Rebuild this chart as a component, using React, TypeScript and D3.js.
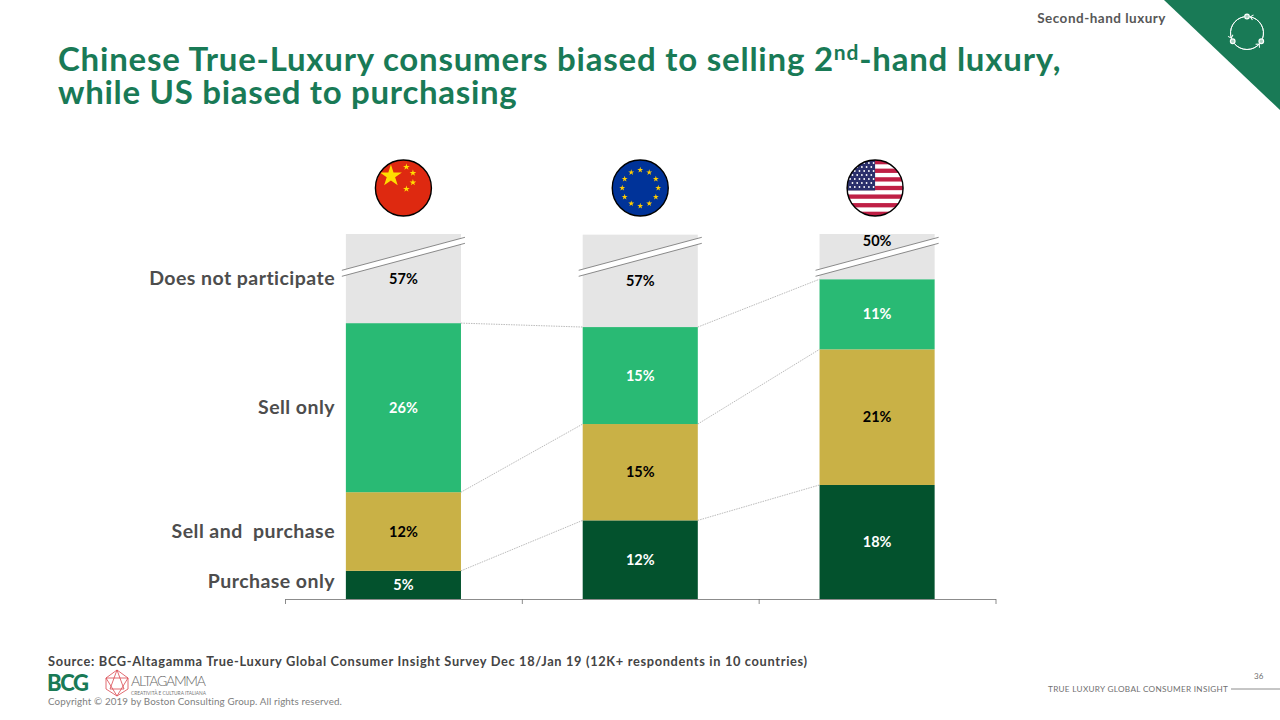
import { useEffect, useRef } from 'react';
import * as d3 from 'd3';

const regions = ['China', 'Europe', 'US'];
const segments = ['Purchase only', 'Sell and purchase', 'Sell only', 'Does not participate'];
const rowLabels = ['Purchase only', 'Sell and  purchase', 'Sell only', 'Does not participate'];

// plotted heights, the grey segment is cut by the axis break
const purchaseOnly = [4.3, 12, 17.4];
const sellAndPurchase = [12, 14.7, 20.7];
const sellOnly = [25.8, 14.8, 10.7];
const notParticipating = [13.6, 14.1, 6.9];

const purchaseLabels = ['5%', '12%', '18%'];
const bothLabels = ['12%', '15%', '21%'];
const sellLabels = ['26%', '15%', '11%'];
const notLabels = ['57%', '57%', '50%'];

const segmentColors = ['#03522d', '#c9b146', '#29ba74', '#e5e5e5'];
const labelColors = ['#ffffff', '#000000', '#ffffff', '#000000'];
const GREEN = '#197a56';
const FONT = "Lato, 'Open Sans', sans-serif";

export default function App() {
  const svgRef = useRef<SVGSVGElement>(null);

  useEffect(() => {
    if (!svgRef.current) return;
    const svg = d3.select(svgRef.current);
    svg.selectAll('*').remove();
    svg.style('font-family', FONT);

    const x = d3.scaleBand().domain(regions).range([285, 995.5]).paddingInner(0.514).paddingOuter(0.257);
    const y = d3.scaleLinear().domain([0, 55.7]).range([599, 234]);
    const bw = x.bandwidth();

    const rows = regions.map((region, i) => ({
      region,
      'Purchase only': purchaseOnly[i],
      'Sell and purchase': sellAndPurchase[i],
      'Sell only': sellOnly[i],
      'Does not participate': notParticipating[i],
    }));
    const stack = d3.stack<any>().keys(segments)(rows);
    const labelSets = [purchaseLabels, bothLabels, sellLabels, notLabels];

    // corner triangle + header
    svg.append('path').attr('d', 'M1164,0H1280V110Z').attr('fill', GREEN);
    const cyc = svg.append('g').attr('transform', 'translate(1247,33)');
    const arc = d3.arc<any>().innerRadius(16.5).outerRadius(16.5);
    [[10, 110], [130, 230], [250, 350]].forEach(([a, b]) => {
      cyc.append('path')
        .attr('d', arc({ startAngle: (a * Math.PI) / 180, endAngle: (b * Math.PI) / 180 }) as string)
        .attr('fill', 'none').attr('stroke', '#fff').attr('stroke-width', 0.9);
    });
    [0, 120, 240].forEach(a => {
      cyc.append('circle')
        .attr('cx', 16.5 * Math.sin((a * Math.PI) / 180))
        .attr('cy', -16.5 * Math.cos((a * Math.PI) / 180))
        .attr('r', 2.3).attr('fill', '#a9cfc0').attr('stroke', '#fff').attr('stroke-width', 1.2);
    });
    // arrow heads point anticlockwise into the next node
    [12, 132, 252].forEach(a => {
      cyc.append('path')
        .attr('transform', `rotate(${a}) translate(0,-16.5)`)
        .attr('d', 'M2.6,-2.6L0,0L2.6,2.6')
        .attr('fill', 'none').attr('stroke', '#fff').attr('stroke-width', 1);
    });
    svg.append('text').attr('x', 1166).attr('y', 23).attr('text-anchor', 'end')
      .attr('fill', '#575757').attr('font-size', 13.5).attr('font-weight', 700).attr('letter-spacing', 0.5)
      .text('Second-hand luxury');

    // title
    const title = svg.append('text').attr('fill', GREEN).attr('font-size', 33).attr('font-weight', 700);
    const t1 = title.append('tspan').attr('x', 58).attr('y', 71).attr('letter-spacing', 0.78);
    t1.append('tspan').text('Chinese True-Luxury consumers biased to selling 2');
    t1.append('tspan').attr('font-size', 21).attr('dy', -11).text('nd');
    t1.append('tspan').attr('dy', 11).text('-hand luxury,');
    title.append('tspan').attr('x', 58).attr('y', 104).attr('letter-spacing', 0.7).text('while US biased to purchasing');

    // bars
    const plot = svg.append('g');
    stack.forEach((layer, k) => {
      plot.selectAll(null).data(layer).enter().append('rect')
        .attr('x', d => x((d.data as any).region) as number)
        .attr('y', d => y(d[1]))
        .attr('width', bw)
        .attr('height', d => y(d[0]) - y(d[1]))
        .attr('fill', segmentColors[k]);
    });

    // connectors between the bars
    stack.slice(0, 3).forEach(layer => {
      d3.pairs(layer as any[]).forEach(([a, b]: any[]) => {
        plot.append('line')
          .attr('x1', (x(a.data.region) as number) + bw).attr('y1', y(a[1]))
          .attr('x2', x(b.data.region) as number).attr('y2', y(b[1]))
          .attr('stroke', '#8c8c8c').attr('stroke-width', 0.6).attr('stroke-dasharray', '1.5 1');
      });
    });

    // axis breaks
    regions.forEach(r => {
      const x0 = (x(r) as number) - 4;
      const x1 = (x(r) as number) + bw + 4;
      plot.append('path').attr('d', `M${x0},270.3L${x1},237.3V243.3L${x0},276.3Z`).attr('fill', '#fff');
      [0, 6].forEach(dy => {
        plot.append('line').attr('x1', x0).attr('y1', 270.3 + dy).attr('x2', x1).attr('y2', 237.3 + dy)
          .attr('stroke', '#6e6e6e').attr('stroke-width', 0.8);
      });
    });

    // value labels
    stack.forEach((layer, k) => {
      plot.selectAll(null).data(layer).enter().append('text')
        .attr('x', d => (x((d.data as any).region) as number) + bw / 2)
        .attr('y', (d, i) => (k === 3 && i === 2 ? y(d[1]) + 7 : (y(d[0]) + y(d[1])) / 2))
        .attr('dy', '0.35em')
        .attr('text-anchor', 'middle')
        .attr('fill', labelColors[k])
        .attr('font-size', 14.5)
        .attr('font-weight', 700)
        .text((d, i) => labelSets[k][i]);
    });

    // row labels follow the first bar
    stack.forEach((layer, k) => {
      const d = layer[0];
      svg.append('text').attr('x', 335)
        .attr('y', (y(d[0]) + y(d[1])) / 2 - (k === 0 ? 4 : 0))
        .attr('dy', '0.35em').attr('text-anchor', 'end')
        .attr('fill', '#4d4d4d').attr('font-size', 19.5).attr('font-weight', 700).attr('letter-spacing', 0.45)
        .style('white-space', 'pre')
        .text(rowLabels[k]);
    });

    // category axis, ticks sit between the bars
    const tickScale = d3.scaleLinear().domain([0, 3]).range([285, 995.5]);
    const axis = svg.append('g').attr('transform', 'translate(0,599)')
      .call(d3.axisBottom(tickScale).tickValues([0, 1, 2, 3]).tickSize(5).tickSizeOuter(0).tickFormat(() => ''));
    axis.selectAll('.domain, .tick line').attr('stroke', '#6e6e6e').attr('stroke-width', 0.8);

    // flags
    const defs = svg.append('defs');
    const flagR = 28;
    const flagY = 188;
    const flagShift = [0, 0, -2];
    const star = (size: number) => d3.symbol().type(d3.symbolStar).size(size)() as string;
    regions.forEach((r, i) => {
      const cx = (x(r) as number) + bw / 2 + flagShift[i];
      defs.append('clipPath').attr('id', `flag-${i}`).append('circle').attr('r', flagR);
      const g = svg.append('g').attr('transform', `translate(${cx},${flagY})`);
      const inner = g.append('g').attr('clip-path', `url(#flag-${i})`);
      const bg = ['#de2910', '#003399', '#ffffff'][i];
      inner.append('rect').attr('x', -flagR).attr('y', -flagR).attr('width', flagR * 2).attr('height', flagR * 2).attr('fill', bg);
      if (i === 0) {
        inner.append('path').attr('d', star(150)).attr('transform', 'translate(-12.5,-12)').attr('fill', '#ffde00');
        [[3, -21], [9.5, -15], [9.5, -5.5], [3, 1]].forEach(([sx, sy]) => {
          inner.append('path').attr('d', star(14)).attr('transform', `translate(${sx},${sy})`).attr('fill', '#ffde00');
        });
      } else if (i === 1) {
        d3.range(12).forEach(n => {
          const a = (n * Math.PI) / 6;
          inner.append('path').attr('d', star(11))
            .attr('transform', `translate(${18 * Math.sin(a)},${-18 * Math.cos(a)})`).attr('fill', '#ffcc00');
        });
      } else {
        const band = d3.scaleBand<number>().domain(d3.range(13)).range([-flagR, flagR]);
        d3.range(0, 13, 2).forEach(n => {
          inner.append('rect').attr('x', -flagR).attr('y', band(n) as number)
            .attr('width', flagR * 2).attr('height', band.bandwidth()).attr('fill', '#bf1f45');
        });
        inner.append('rect').attr('x', -flagR).attr('y', -flagR).attr('width', 28).attr('height', 30.5).attr('fill', '#2a2f6b');
        d3.range(7).forEach(row => {
          d3.range(row % 2 ? 5 : 6).forEach(col => {
            inner.append('circle').attr('cx', -25 + (row % 2 ? 2.4 : 0) + col * 4.7).attr('cy', -25 + row * 4)
              .attr('r', 0.9).attr('fill', '#fff');
          });
        });
      }
      g.append('circle').attr('r', flagR).attr('fill', 'none').attr('stroke', '#000').attr('stroke-width', 1.4);
    });

    // footer
    svg.append('text').attr('x', 48).attr('y', 666).attr('fill', '#444').attr('font-size', 12.8).attr('font-weight', 700).attr('letter-spacing', 0.67)
      .text('Source: BCG-Altagamma True-Luxury Global Consumer Insight Survey Dec 18/Jan 19 (12K+ respondents in 10 countries)');
    svg.append('text').attr('x', 47).attr('y', 691).attr('fill', GREEN).attr('font-size', 22).attr('font-weight', 900).attr('letter-spacing', -1.4).text('BCG');
    const gem = svg.append('g').attr('fill', 'none').attr('stroke', '#d9484f').attr('stroke-width', 0.8);
    gem.append('path').attr('d', 'M117,670L128,678L128,689L117,696L106,689L106,678Z');
    gem.append('path').attr('d', 'M106,678L128,678L117,696ZM117,670L110,689L124,689Z');
    svg.append('text').attr('x', 131).attr('y', 686).attr('fill', '#666').attr('font-size', 14).attr('font-weight', 300).attr('textLength', 75).text('ALTAGAMMA');
    svg.append('text').attr('x', 131).attr('y', 695).attr('fill', '#777').attr('font-size', 4.8).attr('textLength', 75).text('CREATIVITÀ E CULTURA ITALIANA');
    svg.append('text').attr('x', 48).attr('y', 705).attr('fill', '#808080').attr('font-size', 9.8).attr('font-weight', 400).attr('letter-spacing', 0.12)
      .text('Copyright © 2019 by Boston Consulting Group. All rights reserved.');
    svg.append('text').attr('x', 1048).attr('y', 692).attr('fill', '#707070').attr('font-size', 8.2).attr('letter-spacing', 0.3)
      .text('TRUE LUXURY GLOBAL CONSUMER INSIGHT');
    svg.append('line').attr('x1', 1231).attr('x2', 1280).attr('y1', 689).attr('y2', 689).attr('stroke', '#707070').attr('stroke-width', 0.8);
    svg.append('text').attr('x', 1254).attr('y', 679).attr('fill', '#707070').attr('font-size', 8).text('36');
  }, []);

  return (
    <svg
      ref={svgRef}
      width={1280}
      height={720}
      style={{ position: 'absolute', left: 0, top: 0, display: 'block', background: '#fff' }}
    />
  );
}
